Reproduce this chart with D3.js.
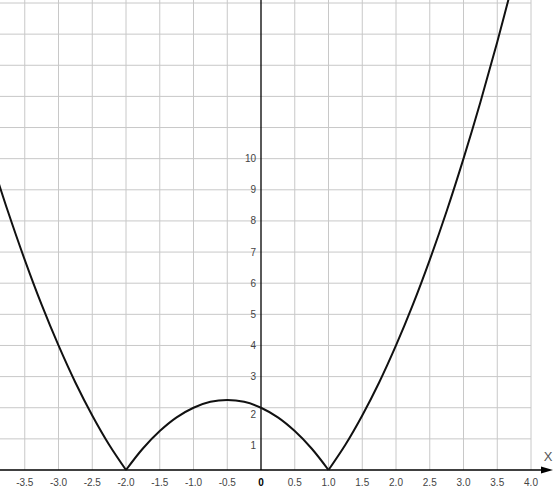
<!DOCTYPE html>
<html>
<head>
<meta charset="utf-8">
<script src="https://cdn.jsdelivr.net/npm/d3@7"></script>
<style>
    body { margin: 0; background: #fff; }
    #chart { width: 553px; height: 489px; }
    text { font-family: "Liberation Sans", Arial, sans-serif; }
</style>
</head>
<body>
<div id="chart"></div>
<script>
// curve points, split at the two cusps
const leftX = [-3.9, -3.75, -3.5, -3.25, -3.0, -2.75, -2.5, -2.25, -2.0];
const leftY = [9.31, 8.31, 6.75, 5.31, 4.0, 2.81, 1.75, 0.81, 0];
const midX = [-2.0, -1.75, -1.5, -1.25, -1.0, -0.75, -0.5, -0.25, 0, 0.25, 0.5, 0.75, 1.0];
const midY = [0, 0.69, 1.25, 1.69, 2.0, 2.19, 2.25, 2.19, 2.0, 1.69, 1.25, 0.69, 0];
const rightX = [1.0, 1.25, 1.5, 1.75, 2.0, 2.25, 2.5, 2.75, 3.0, 3.25, 3.5, 3.75];
const rightY = [0, 0.81, 1.75, 2.81, 4.0, 5.31, 6.75, 8.31, 10.0, 11.81, 13.75, 15.81];

// tick labels
const xTicks = [-3.5, -3.0, -2.5, -2.0, -1.5, -1.0, -0.5, 0, 0.5, 1.0, 1.5, 2.0, 2.5, 3.0, 3.5, 4.0];
const yTicks = [1, 2, 3, 4, 5, 6, 7, 8, 9, 10];
const yGrid = [1, 2, 3, 4, 5, 6, 7, 8, 9, 10, 11, 12, 13, 14, 15];

class CurveVis {

    constructor(parentElement) {
        this.parentElement = parentElement;
        this.initVis();
    }

    initVis() {
        let vis = this;

        vis.width = 553;
        vis.height = 489;

        vis.svg = d3.select(`#${vis.parentElement}`).append("svg")
            .attr("width", vis.width)
            .attr("height", vis.height);

        // 0.5 unit = 33.75px horizontally, 1 unit = 31.13px vertically
        vis.x = d3.scaleLinear().domain([-4, 4]).range([-9, 531]);
        vis.y = d3.scaleLinear().domain([0, 15]).range([470, 3]);

        // grid
        vis.svg.append("g").selectAll("line")
            .data(xTicks.filter(d => d !== 0))
            .enter().append("line")
            .attr("x1", d => vis.x(d)).attr("x2", d => vis.x(d))
            .attr("y1", 0).attr("y2", vis.y(0))
            .attr("stroke", "#c8c8c8").attr("stroke-width", 1);

        vis.svg.append("g").selectAll("line")
            .data(yGrid)
            .enter().append("line")
            .attr("x1", 0).attr("x2", vis.x(4))
            .attr("y1", d => vis.y(d)).attr("y2", d => vis.y(d))
            .attr("stroke", "#c8c8c8").attr("stroke-width", 1);

        // axes
        vis.svg.append("line")
            .attr("x1", vis.x(0)).attr("x2", vis.x(0))
            .attr("y1", 0).attr("y2", vis.y(0))
            .attr("stroke", "#000").attr("stroke-width", 1.3);

        vis.svg.append("line")
            .attr("x1", 0).attr("x2", 548)
            .attr("y1", vis.y(0)).attr("y2", vis.y(0))
            .attr("stroke", "#000").attr("stroke-width", 1.3);

        vis.svg.append("path")
            .attr("d", `M541,${vis.y(0) - 3.5} L553,${vis.y(0)} L541,${vis.y(0) + 3.5} Z`)
            .attr("fill", "#000");

        vis.svg.append("text")
            .attr("x", 548).attr("y", 461)
            .attr("text-anchor", "middle")
            .attr("fill", "#555")
            .style("font-size", "13px")
            .text("X");

        // x tick labels
        vis.svg.append("g").selectAll("text")
            .data(xTicks)
            .enter().append("text")
            .attr("x", d => vis.x(d))
            .attr("y", 486)
            .attr("text-anchor", "middle")
            .attr("fill", d => d === 0 ? "#000" : "#444")
            .style("font-size", "10px")
            .style("font-weight", d => d === 0 ? "bold" : "normal")
            .text(d => d === 0 ? "0" : d.toFixed(1));

        // y tick labels (1 and 2 sit a bit lower, clear of the curve)
        vis.svg.append("g").selectAll("text")
            .data(yTicks)
            .enter().append("text")
            .attr("x", 256)
            .attr("y", d => vis.y(d) + (d <= 2 ? 7 : 0))
            .attr("dy", "0.35em")
            .attr("text-anchor", "end")
            .attr("fill", "#444")
            .style("font-size", "10px")
            .text(d => d);

        vis.wrangleData();
    }

    wrangleData() {
        let vis = this;
        vis.segments = [
            leftX.map((d, i) => ({x: d, y: leftY[i]})),
            midX.map((d, i) => ({x: d, y: midY[i]})),
            rightX.map((d, i) => ({x: d, y: rightY[i]}))
        ];
        vis.updateVis();
    }

    updateVis() {
        let vis = this;

        let line = d3.line()
            .x(d => vis.x(d.x))
            .y(d => vis.y(d.y))
            .curve(d3.curveCatmullRom);

        vis.svg.append("g").selectAll("path")
            .data(vis.segments)
            .enter().append("path")
            .attr("d", line)
            .attr("fill", "none")
            .attr("stroke", "#111")
            .attr("stroke-width", 2);
    }
}

new CurveVis("chart");
</script>
</body>
</html>
